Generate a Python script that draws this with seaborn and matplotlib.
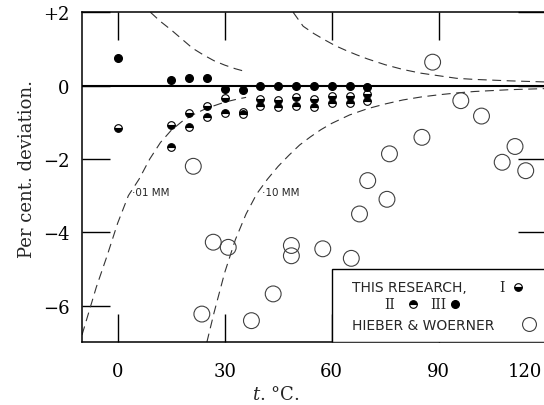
import matplotlib
matplotlib.use("Agg")
import matplotlib.pyplot as plt
import matplotlib.transforms as mtransforms
import seaborn as sns
from matplotlib.patches import Rectangle

# --- data ---
# this research, run I (bottom-half filled), run II (top-half filled), run III (solid)
t_run1 = [0, 15, 20, 25, 30, 35, 40, 45, 50, 55, 60, 65, 70]
dev_run1 = [-1.15, -1.06, -0.75, -0.56, -0.34, -0.72, -0.36, -0.39, -0.32, -0.36, -0.27, -0.27, -0.23]
t_run2 = [15, 20, 25, 30, 35, 40, 45, 50, 55, 60, 65, 70]
dev_run2 = [-1.67, -1.12, -0.86, -0.75, -0.77, -0.55, -0.59, -0.55, -0.59, -0.48, -0.48, -0.41]
t_run3 = [0, 15, 20, 25, 30, 35, 40, 45, 50, 55, 60, 65, 70]
dev_run3 = [0.76, 0.16, 0.21, 0.22, -0.09, -0.11, -0.02, -0.02, -0.02, -0.02, -0.02, -0.02, -0.05]

# Hieber & Woerner
t_hw = [21.2, 23.6, 26.8, 31.0, 37.5, 43.6, 48.7, 48.7, 57.5, 65.5, 67.8, 70.1,
        75.5, 76.2, 85.3, 88.3, 96.2, 102.0, 107.8, 111.4, 114.4]
dev_hw = [-2.2, -6.23, -4.27, -4.41, -6.41, -5.68, -4.36, -4.64, -4.45, -4.71, -3.5, -2.59,
          -3.1, -1.86, -1.41, 0.64, -0.41, -0.83, -2.09, -1.66, -2.32]

# dashed error curves for .01 mm and .10 mm
t_01_up = [9.2, 12, 15, 18, 21, 24, 27, 30, 33, 36]
dev_01_up = [2.0, 1.75, 1.52, 1.27, 1.02, 0.84, 0.68, 0.56, 0.46, 0.38]
t_01_lo = [-10, -6, -3, 0, 3, 6, 9, 12, 15, 18, 21, 24, 27, 30, 33, 36]
dev_01_lo = [-6.8, -5.5, -4.65, -3.75, -3.0, -2.55, -2.0, -1.55, -1.22, -0.98, -0.8, -0.66,
             -0.55, -0.45, -0.38, -0.32]
t_10_up = [49.2, 52, 55, 58, 61, 64, 67, 70, 75, 80, 85, 90, 95, 100, 105, 110, 120]
dev_10_up = [2.0, 1.62, 1.42, 1.25, 1.09, 0.96, 0.84, 0.73, 0.57, 0.44, 0.34, 0.27, 0.2,
             0.17, 0.15, 0.13, 0.1]
t_10_lo = [25, 27, 30, 33, 36, 39, 42, 45, 48, 51, 54, 57, 60, 65, 70, 75, 80, 85, 90,
           95, 100, 110, 120]
dev_10_lo = [-7.0, -6.2, -5.1, -4.2, -3.5, -2.95, -2.55, -2.2, -1.9, -1.62, -1.4, -1.2,
             -1.03, -0.8, -0.63, -0.5, -0.39, -0.31, -0.25, -0.2, -0.16, -0.11, -0.08]

x_ticks = [0, 30, 60, 90, 120]
y_ticks = [-6, -4, -2, 0, 2]
y_tick_labels = ["\u22126", "\u22124", "\u22122", "0", "+2"]

sns.set_style("ticks")
plt.rcParams["font.family"] = ["DejaVu Serif"]
plt.rcParams["mathtext.fontset"] = "dejavuserif"

fig = plt.figure(figsize=(5.44, 4.06), dpi=100)
ax = fig.add_axes([82 / 544, 1 - 343.3 / 406, 463.7 / 544, 330 / 406])
ax.set_axisbelow(True)

dash = (0, (8, 5))
for tx, dy in [(t_01_up, dev_01_up), (t_01_lo, dev_01_lo),
               (t_10_up, dev_10_up), (t_10_lo, dev_10_lo)]:
    sns.lineplot(x=tx, y=dy, ax=ax, sort=False, estimator=None, color="0.2",
                 lw=0.8, linestyle=dash)

ax.axhline(0, color="black", lw=1.5, zorder=2)

sns.scatterplot(x=t_hw, y=dev_hw, ax=ax, s=130, facecolors="none",
                edgecolor="0.25", linewidth=0.8, zorder=3)

half = dict(marker="o", ms=5.5, mec="black", mew=0.8, mfc="black", mfcalt="white",
            linestyle="none", zorder=4)
ax.plot(t_run1, dev_run1, fillstyle="bottom", **half)
ax.plot(t_run2, dev_run2, fillstyle="top", **half)
ax.plot(t_run3, dev_run3, marker="o", ms=5.5, color="black", linestyle="none", zorder=4)

ax.text(3.9, -2.9, "\u00b701 MM", fontsize=7.5, family="DejaVu Sans", va="center", zorder=6)
ax.text(40.5, -2.9, "\u00b710 MM", fontsize=7.5, family="DejaVu Sans", va="center", zorder=6)

# legend box drawn in data coords like the original
ax.add_patch(Rectangle((60, -7), 62, 2, facecolor="white", edgecolor="black",
                       lw=1.0, zorder=5))
sans = dict(family="DejaVu Sans", fontsize=10, va="center", zorder=6)
ax.text(65.8, -5.5, "THIS RESEARCH,", **sans)
ax.text(107.6, -5.5, "I", ha="center", va="center", fontsize=10, zorder=6)
ax.text(76.2, -5.95, "II", ha="center", va="center", fontsize=10, zorder=6)
ax.text(89.8, -5.95, "III", ha="center", va="center", fontsize=10, zorder=6)
ax.text(65.8, -6.53, "HIEBER & WOERNER", **sans)
leg = dict(linestyle="none", zorder=6, clip_on=False)
ax.plot([112.3], [-5.5], marker="o", ms=5.5, mec="black", mew=0.8, mfc="black",
        mfcalt="white", fillstyle="bottom", **leg)
ax.plot([82.7], [-5.95], marker="o", ms=5.5, mec="black", mew=0.8, mfc="black",
        mfcalt="white", fillstyle="top", **leg)
ax.plot([94.6], [-5.95], marker="o", ms=5.5, color="black", **leg)
ax.plot([115.3], [-6.5], marker="o", ms=10, mfc="none", mec="0.25", mew=0.8, **leg)

ax.set_xlim(-10, 120)
ax.set_ylim(-7, 2)
ax.set_xticks(x_ticks)
ax.set_yticks(y_ticks)
ax.set_yticklabels(y_tick_labels)
ax.tick_params(direction="in", length=20, width=1.0, top=True, right=True,
               labelsize=13, colors="black")
ax.tick_params(axis="y", pad=9)
ax.tick_params(axis="x", pad=14)
last = ax.get_xticklabels()[-1]
last.set_horizontalalignment("right")
last.set_transform(last.get_transform()
                   + mtransforms.ScaledTranslation(-4 / 100, 0, fig.dpi_scale_trans))
for s in ax.spines.values():
    s.set_linewidth(1.1)
    s.set_color("black")
ax.set_xlabel("")
ax.set_ylabel("")

fig.text(27 / 544, 1 - 169 / 406, "Per cent. deviation.", rotation=90,
         ha="center", va="center", fontsize=13)
fig.text(276 / 544, 1 - 395 / 406, "$t$. \u00b0C.", ha="center", va="center",
         fontsize=13)

fig.savefig("out.png", dpi=100)
